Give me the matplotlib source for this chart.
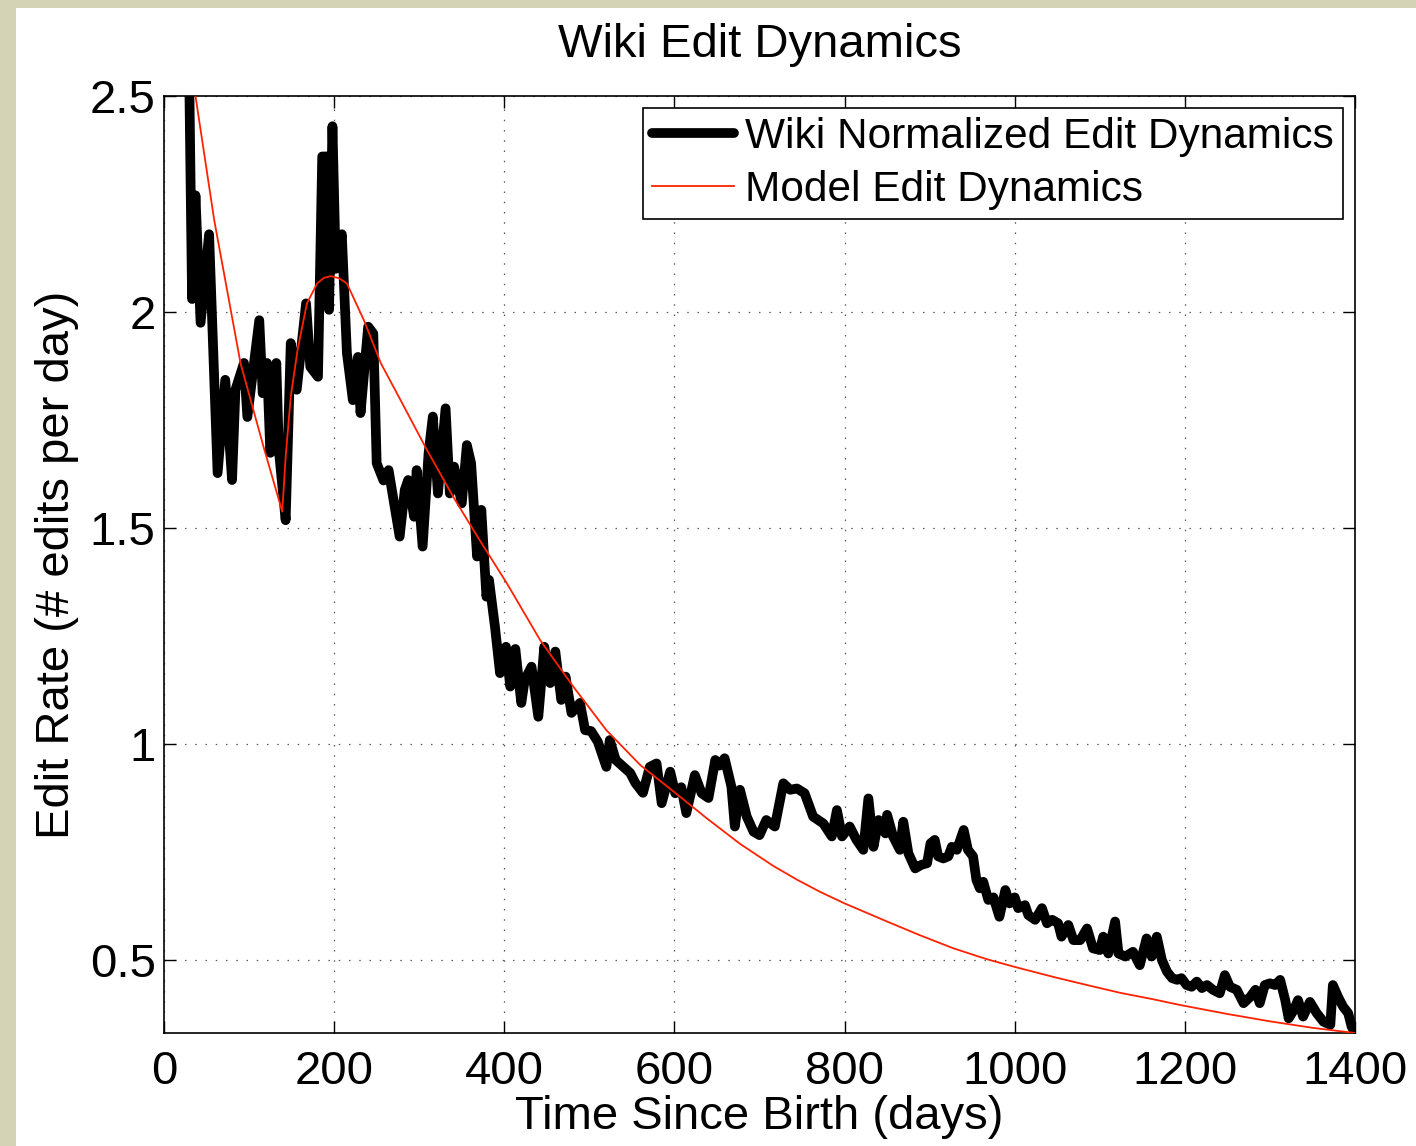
import numpy as np
import matplotlib
matplotlib.use("Agg")
import matplotlib.pyplot as plt
from matplotlib.patches import Rectangle

plt.rcParams['font.family'] = ['Liberation Sans', 'DejaVu Sans']

wiki_days = [28, 33, 37, 43, 53, 63, 72, 80, 84, 94, 98, 112, 116, 121, 125, 132, 135, 143, 149, 156,
             167, 172, 181, 186, 192, 194, 198, 202, 209, 215, 222, 228, 231, 240, 246, 250, 258, 264,
             277, 283, 287, 294, 297, 304, 311, 316, 322, 331, 336, 341, 350, 356, 361, 368, 373, 379,
             382, 389, 395, 402, 407, 413, 420, 424, 432, 440, 447, 454, 460, 467, 472, 479, 489, 495,
             502, 510, 520, 524, 531, 540, 548, 554, 563, 571, 579, 585, 595, 601, 608, 614, 624, 632,
             640, 648, 653, 659, 667, 671, 677, 685, 693, 700, 708, 718, 728, 736, 744, 753, 763, 775,
             785, 791, 797, 806, 814, 822, 828, 834, 840, 848, 850, 857, 865, 869, 875, 883, 890, 897,
             901, 906, 910, 916, 922, 926, 932, 940, 945, 951, 955, 959, 963, 969, 975, 982, 989, 994,
             1000, 1004, 1012, 1016, 1024, 1032, 1038, 1044, 1051, 1055, 1063, 1069, 1077, 1085, 1092,
             1100, 1104, 1110, 1118, 1122, 1130, 1139, 1147, 1155, 1161, 1167, 1173, 1179, 1185, 1191,
             1196, 1202, 1208, 1214, 1220, 1226, 1233, 1241, 1247, 1253, 1261, 1269, 1277, 1283, 1288,
             1294, 1300, 1306, 1312, 1318, 1322, 1328, 1333, 1339, 1347, 1355, 1363, 1371, 1374, 1380,
             1386, 1392, 1396, 1400]
wiki_rate = [2.80, 2.03, 2.27, 1.975, 2.18, 1.627, 1.843, 1.611, 1.82, 1.882, 1.757, 1.981, 1.812, 1.882,
             1.674, 1.882, 1.68, 1.518, 1.928, 1.82, 2.02, 1.873, 1.85, 2.36, 2.36, 2.005, 2.43, 2.10,
             2.18, 1.905, 1.796, 1.896, 1.766, 1.966, 1.95, 1.65, 1.61, 1.634,
             1.48, 1.588, 1.611, 1.526, 1.634, 1.457, 1.673, 1.758, 1.58, 1.777, 1.58, 1.642, 1.557,
             1.692, 1.65, 1.434, 1.542, 1.341, 1.38, 1.272, 1.164, 1.225, 1.133, 1.22, 1.095, 1.148,
             1.179, 1.063, 1.225, 1.141, 1.214, 1.102, 1.156, 1.072, 1.095, 1.032, 1.03, 1.005, 0.947,
             1.009, 0.963, 0.947, 0.933, 0.91, 0.887, 0.947, 0.955, 0.863, 0.936, 0.886, 0.90, 0.84,
             0.928, 0.886, 0.875, 0.963, 0.95, 0.967, 0.901, 0.809, 0.894, 0.832, 0.797, 0.789, 0.824,
             0.809, 0.909, 0.894, 0.897, 0.886, 0.832, 0.816, 0.786, 0.847, 0.786, 0.809, 0.778, 0.755,
             0.874, 0.762, 0.824, 0.793, 0.836, 0.786, 0.755, 0.82, 0.747, 0.712, 0.72, 0.724, 0.77,
             0.778, 0.74, 0.735, 0.74, 0.762, 0.755, 0.801, 0.755, 0.74, 0.685, 0.666, 0.681, 0.639,
             0.645, 0.60, 0.662, 0.631, 0.645, 0.62, 0.627, 0.604, 0.593, 0.62, 0.585, 0.593, 0.585,
             0.554, 0.581, 0.546, 0.546, 0.573, 0.527, 0.523, 0.554, 0.515, 0.589, 0.515, 0.508, 0.519,
             0.488, 0.55, 0.508, 0.554, 0.50, 0.473, 0.458, 0.454, 0.458, 0.442, 0.438, 0.45, 0.435,
             0.442, 0.431, 0.423, 0.465, 0.438, 0.431, 0.40, 0.415, 0.431, 0.40, 0.442, 0.446, 0.442,
             0.454, 0.407, 0.365, 0.384, 0.407, 0.369, 0.403, 0.377, 0.357, 0.35, 0.442, 0.415, 0.392,
             0.377, 0.346, 0.331]

# model curve
model_days = [30, 37, 59, 90, 117, 139, 143, 149, 157, 168, 180, 188, 196, 206, 215, 235, 255, 277, 309,
              340, 371, 403, 442, 481, 520, 560, 599, 638, 677, 716, 744, 771, 800, 850, 889, 928, 967,
              1000, 1045, 1085, 1124, 1163, 1194, 1250, 1300, 1350, 1400]
model_rate = [2.59, 2.5, 2.213, 1.881, 1.688, 1.538, 1.665, 1.804, 1.912, 2.02, 2.066, 2.079, 2.083, 2.078,
              2.066, 1.981, 1.881, 1.80, 1.681, 1.572, 1.472, 1.372, 1.241, 1.133, 1.032, 0.951, 0.89,
              0.828, 0.769, 0.718, 0.686, 0.658, 0.631, 0.589, 0.557, 0.527, 0.502, 0.484, 0.461, 0.442,
              0.424, 0.409, 0.396, 0.375, 0.358, 0.343, 0.331]

xticks = [0, 200, 400, 600, 800, 1000, 1200, 1400]
yticks = [0.5, 1, 1.5, 2, 2.5]
ytick_labels = ["0.5", "1", "1.5", "2", "2.5"]

W, H = 1416, 1146
fig = plt.figure(figsize=(W / 100, H / 100), dpi=100, facecolor="#d4d3b5")
fig.patches.append(Rectangle((16 / W, 0), 1, 1 - 8 / H, transform=fig.transFigure,
                             facecolor="white", edgecolor="none", zorder=-5))
ax = fig.add_axes([164 / W, 1 - 1033 / H, (1355 - 164) / W, (1033 - 96) / H])

ax.plot(wiki_days, wiki_rate, color="k", lw=7, solid_joinstyle="round", solid_capstyle="round",
        label="Wiki Normalized Edit Dynamics", zorder=3)
ax.plot(model_days, model_rate, color="#ff2200", lw=1.3, label="Model Edit Dynamics", zorder=4)

ax.set_xlim(0, 1400); ax.set_ylim(0.331, 2.5)
ax.set_xticks(xticks); ax.set_xticklabels([str(t) for t in xticks])
ax.set_yticks(yticks); ax.set_yticklabels(ytick_labels)
ax.tick_params(direction="in", top=True, right=True, length=8.5, width=1.0, labelsize=34)
ax.tick_params(axis="x", pad=12); ax.tick_params(axis="y", pad=6)
for s in ax.spines.values(): s.set_linewidth(1.2)
ax.grid(True, color="0.35", lw=0.9, ls=(0, (1.2, 7)))

ax.set_title("Wiki Edit Dynamics", fontsize=34, pad=28)
ax.set_xlabel("Time Since Birth (days)", fontsize=34, labelpad=1)
ax.set_ylabel("Edit Rate (# edits per day)", fontsize=34, labelpad=8)

leg = ax.legend(loc="upper right", fontsize=30.5, fancybox=False, framealpha=1, edgecolor="k",
                borderaxespad=0.28, borderpad=0.22, labelspacing=0.3, handlelength=1.95,
                handletextpad=0.25)
leg.get_frame().set_linewidth(1.2)

fig.savefig("out.png", dpi=100, facecolor=fig.get_facecolor())
